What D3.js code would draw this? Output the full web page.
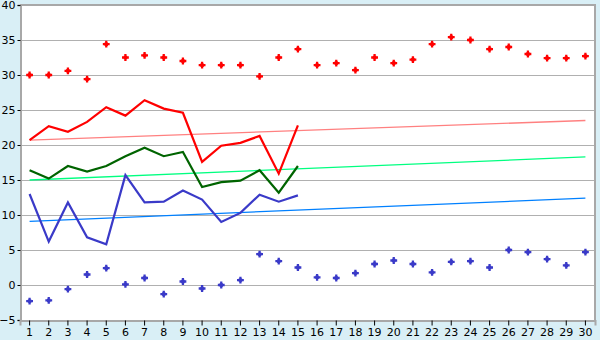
<!DOCTYPE html>
<html>
<head>
<meta charset="utf-8">
<script src="https://cdn.jsdelivr.net/npm/d3@7"></script>
<style>
  body { margin: 0; background: #d9eff6; }
  svg { display: block; }
  .tick text { font-family: "DejaVu Sans", Verdana, sans-serif; font-size: 11px; fill: #000; }
</style>
</head>
<body>
<div id="chart"></div>
<script>
// days of the month
const days = d3.range(1, 31);
// daily maximum (red points) and minimum (blue points)
const maxPoints = [30.0, 30.0, 30.6, 29.4, 34.4, 32.5, 32.8, 32.5, 32.0, 31.4,
                   31.4, 31.4, 29.8, 32.5, 33.7, 31.4, 31.7, 30.7, 32.5, 31.7,
                   32.2, 34.4, 35.4, 35.0, 33.7, 34.0, 33.0, 32.4, 32.4, 32.7];
const minPoints = [-2.3, -2.2, -0.6, 1.5, 2.4, 0.1, 1.0, -1.3, 0.5, -0.5,
                   0.0, 0.7, 4.4, 3.4, 2.5, 1.1, 1.0, 1.7, 3.0, 3.5,
                   3.0, 1.8, 3.3, 3.4, 2.5, 5.0, 4.7, 3.7, 2.8, 4.7];
// measured series, first 15 days
const highLine = [20.7, 22.7, 21.9, 23.3, 25.4, 24.2, 26.4, 25.2, 24.6, 17.6,
                  19.9, 20.3, 21.3, 15.9, 22.8];
const meanLine = [16.4, 15.2, 17.0, 16.2, 17.0, 18.4, 19.6, 18.4, 19.0, 14.0,
                  14.7, 14.9, 16.4, 13.2, 17.0];
const lowLine = [13.0, 6.2, 11.8, 6.8, 5.8, 15.7, 11.8, 11.9, 13.5, 12.2,
                 9.0, 10.3, 12.9, 11.9, 12.8];
// trend lines: value at day 1 and day 30
const highTrend = [20.7, 23.5];
const meanTrend = [15.0, 18.3];
const lowTrend = [9.1, 12.4];
const yTicks = d3.range(-5, 41, 5);

const width = 600, height = 340;
const margin = {top: 5, right: 5, bottom: 20, left: 20};

const svg = d3.select("#chart").append("svg")
    .attr("width", width)
    .attr("height", height);

const x = d3.scaleBand()
    .domain(days)
    .range([margin.left, width - margin.right]);
const y = d3.scaleLinear()
    .domain([-5, 40])
    .range([height - margin.bottom, margin.top]);
const cx = d => x(d) + x.bandwidth() / 2;

// plot area
svg.append("rect")
    .attr("x", margin.left)
    .attr("y", margin.top)
    .attr("width", width - margin.left - margin.right)
    .attr("height", height - margin.top - margin.bottom)
    .attr("fill", "#fff");

// grid
svg.append("g")
    .selectAll("line")
    .data(yTicks.slice(1))
    .enter()
    .append("line")
    .attr("x1", margin.left)
    .attr("x2", width - margin.right)
    .attr("y1", d => Math.round(y(d)) + 0.5)
    .attr("y2", d => Math.round(y(d)) + 0.5)
    .attr("stroke", "#b0b0b0")
    .attr("stroke-width", 1);

// border top / right
svg.append("path")
    .attr("d", `M${margin.left},${margin.top}H${width - margin.right}V${height - margin.bottom}`)
    .attr("fill", "none")
    .attr("stroke", "#a8a8a8")
    .attr("stroke-width", 2);

// axes
const yAxis = svg.append("g")
    .attr("transform", `translate(${margin.left + 0.5},0)`)
    .call(d3.axisLeft(y).tickValues(yTicks).tickSize(3).tickPadding(2));
yAxis.select(".domain").attr("stroke", "#a8a8a8").attr("stroke-width", 2);
yAxis.selectAll(".tick line").attr("stroke", "#000");
yAxis.selectAll(".tick text").text(d => d < 0 ? "\u2212" + Math.abs(d) : d);

const xAxis = svg.append("g")
    .attr("transform", `translate(0,${height - margin.bottom + 0.5})`)
    .call(d3.axisBottom(x).tickSize(5).tickPadding(3));
xAxis.select(".domain").attr("stroke", "#a8a8a8").attr("stroke-width", 2);
xAxis.selectAll(".tick line").attr("stroke", "#000");

// trend lines
const trends = [
    {v: highTrend, c: "#ff8080"},
    {v: meanTrend, c: "#00ff80"},
    {v: lowTrend, c: "#0080ff"}
];
trends.forEach(t => {
    svg.append("line")
        .attr("x1", cx(days[0]))
        .attr("x2", cx(days[days.length - 1]))
        .attr("y1", y(t.v[0]))
        .attr("y2", y(t.v[1]))
        .attr("stroke", t.c)
        .attr("stroke-width", 1.3);
});

// series lines
const line = d3.line()
    .x((d, i) => cx(days[i]))
    .y(d => y(d));
[
    {v: highLine, c: "#ff0000"},
    {v: meanLine, c: "#006400"},
    {v: lowLine, c: "#3a3ac8"}
].forEach(s => {
    svg.append("path")
        .datum(s.v)
        .attr("d", line)
        .attr("fill", "none")
        .attr("stroke", s.c)
        .attr("stroke-width", 2.2)
        .attr("stroke-linejoin", "miter");
});

// point markers: small cross with a filled diamond centre
const cross = d3.symbol().type(d3.symbolCross).size(26);
const diamond = d3.symbol().type(d3.symbolSquare).size(12);
[
    {v: maxPoints, c: "#ff0000"},
    {v: minPoints, c: "#3a3ac8"}
].forEach(s => {
    const g = svg.append("g")
        .selectAll("g")
        .data(s.v)
        .enter()
        .append("g")
        .attr("transform", (d, i) => `translate(${cx(days[i])},${y(d)})`)
        .attr("fill", s.c);
    g.append("path").attr("d", cross);
    g.append("path").attr("d", diamond);
});
</script>
</body>
</html>
